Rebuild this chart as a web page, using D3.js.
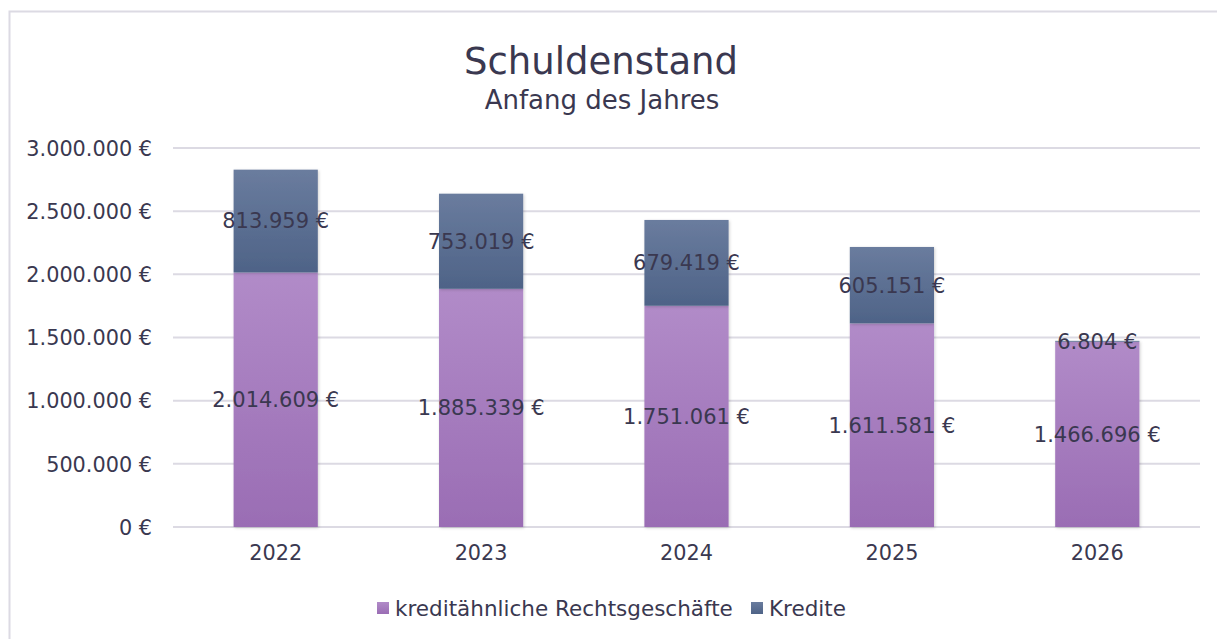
<!DOCTYPE html>
<html><head><meta charset="utf-8">
<script src="https://cdn.jsdelivr.net/npm/d3@7"></script>
<style>body{margin:0;background:#fff;} text{font-family:"DejaVu Sans",sans-serif;fill:#3a3850;}</style>
</head><body>
<svg id="c" width="1217" height="639"></svg>
<script>
const years = ["2022","2023","2024","2025","2026"];
const rechtsgeschaefte = [2014609, 1885339, 1751061, 1611581, 1466696];
const kredite = [813959, 753019, 679419, 605151, 6804];
const yTicks = [0, 500000, 1000000, 1500000, 2000000, 2500000, 3000000];
const seriesNames = ["kreditähnliche Rechtsgeschäfte", "Kredite"];

const fmt = v => d3.format(",")(v).replace(/,/g, ".") + " €";
const svg = d3.select("#c");
const defs = svg.append("defs");
function grad(id, top, bot){
  const g = defs.append("linearGradient").attr("id", id).attr("x1",0).attr("y1",0).attr("x2",0).attr("y2",1);
  g.append("stop").attr("offset","0%").attr("stop-color",top);
  g.append("stop").attr("offset","100%").attr("stop-color",bot);
}
grad("gP", "#b18bc8", "#9a6db4");
grad("gB", "#6a7c9e", "#4e6387");
const f = defs.append("filter").attr("id","sh").attr("x","-10%").attr("y","-10%").attr("width","130%").attr("height","130%");
f.append("feDropShadow").attr("dx",1).attr("dy",1).attr("stdDeviation",1.5).attr("flood-color","#000").attr("flood-opacity",0.18);

svg.append("rect").attr("x",9.5).attr("y",11.5).attr("width",1220).attr("height",640)
  .attr("fill","#fff").attr("stroke","#dcdae3").attr("stroke-width",2);

const x = d3.scaleBand().domain(years).range([173, 1200]).paddingInner(0.59).paddingOuter(0.295);
const y = d3.scaleLinear().domain([0, 3000000]).range([527, 148]);

// gridlines
svg.append("g").selectAll("line").data(yTicks).join("line")
  .attr("x1",173).attr("x2",1200).attr("y1",d=>y(d)).attr("y2",d=>y(d))
  .attr("stroke","#dcdae3").attr("stroke-width",2);

// y axis labels
const yAxis = d3.axisLeft(y).tickValues(yTicks).tickFormat(fmt).tickSize(0).tickPadding(0);
const ya = svg.append("g").attr("transform","translate(152,0)").call(yAxis);
ya.select(".domain").remove();
ya.selectAll("text").style("font-size","20.8px").attr("fill","#3a3850").attr("dy","0.35em").style("font-family","DejaVu Sans");

// x axis labels
const xAxis = d3.axisBottom(x).tickSize(0).tickPadding(0);
const xa = svg.append("g").attr("transform","translate(0,544)").call(xAxis);
xa.select(".domain").remove();
xa.selectAll("text").style("font-size","20.8px").attr("fill","#3a3850").attr("dy","0.75em").style("font-family","DejaVu Sans");

// bars
const stackData = years.map((yr,i)=>({year:yr, r:rechtsgeschaefte[i], k:kredite[i]}));
const stack = d3.stack().keys(["r","k"])(stackData);
const fills = ["url(#gP)","url(#gB)"];
stack.forEach((s,si)=>{
  svg.append("g").attr("filter","url(#sh)").selectAll("rect").data(s).join("rect")
    .attr("x",d=>x(d.data.year)).attr("width",x.bandwidth())
    .attr("y",d=>y(d[1])).attr("height",d=>y(d[0])-y(d[1]))
    .attr("fill",fills[si]);
});
// labels
stack.forEach((s,si)=>{
  svg.append("g").selectAll("text").data(s).join("text")
    .attr("x",d=>x(d.data.year)+x.bandwidth()/2)
    .attr("y",d=>(y(d[0])+y(d[1]))/2)
    .attr("dy","0.35em").attr("text-anchor","middle")
    .style("font-size","21px")
    .text(d=>fmt(d[1]-d[0]));
});

// title
svg.append("text").attr("x",601).attr("y",74).attr("text-anchor","middle").style("font-size","37px").text("Schuldenstand");
svg.append("text").attr("x",602).attr("y",109).attr("text-anchor","middle").style("font-size","26px").text("Anfang des Jahres");

// legend
const leg = [{n:seriesNames[0], c:"url(#gP)", x:377},{n:seriesNames[1], c:"url(#gB)", x:751}];
leg.forEach(l=>{
  svg.append("rect").attr("x",l.x).attr("y",602).attr("width",12).attr("height",12).attr("fill",l.c);
  svg.append("text").attr("x",l.x+18).attr("y",608).attr("dy","0.35em").style("font-size","21.5px").text(l.n);
});
</script>
</body></html>
